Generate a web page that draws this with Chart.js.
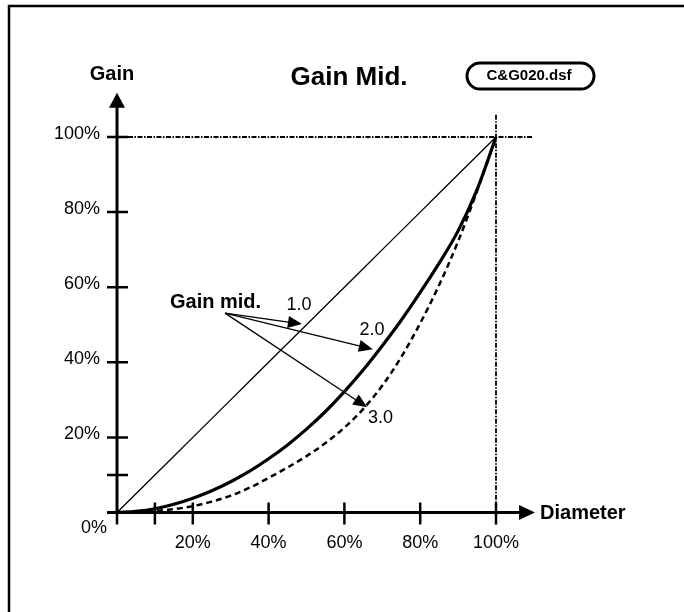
<!DOCTYPE html>
<html>
<head>
<meta charset="utf-8">
<script src="https://cdn.jsdelivr.net/npm/chart.js@4.4.1/dist/chart.umd.min.js"></script>
<style>
  html, body { margin: 0; padding: 0; background: #fff; }
  #wrap { width: 684px; height: 612px; position: relative; }
</style>
</head>
<body>
<div id="wrap"><canvas id="gainChart"></canvas></div>
<script>
// diameter (%) and gain (%) for the three "gain mid." settings
const diameter = [0, 5, 10, 15, 20, 25, 30, 35, 40, 45, 50, 55, 60, 65, 70, 75, 80, 85, 90, 95, 100];
const gainMid1 = [0, 5, 10, 15, 20, 25, 30, 35, 40, 45, 50, 55, 60, 65, 70, 75, 80, 85, 90, 95, 100];
const gainMid2 = [0, 0.3, 1, 2.2, 3.8, 5.8, 8.2, 11, 14.3, 18, 22.2, 26.9, 32.2, 38, 44.4, 51.2, 58.6, 66.4, 75, 86, 100];
const gainMid3 = [0, 0.1, 0.4, 0.9, 1.7, 2.9, 4.5, 6.6, 9.2, 12, 15, 18.5, 22.6, 27.6, 33.8, 41.4, 50.4, 60.6, 72.2, 85.6, 100];

// axis ticks
const xTickValues = [10, 20, 40, 60, 80, 100];
const xTickLabels = ['', '20%', '40%', '60%', '80%', '100%'];
const yTickValues = [10, 20, 40, 60, 80, 100];
const yTickLabels = ['', '20%', '40%', '60%', '80%', '100%'];

// annotation (data units)
const noteText = 'Gain mid.';
const notePos = { x: 26, y: 56 };
const noteOrigin = { x: 28.5, y: 53.1 };
const noteTargets = [{ x: 48.8, y: 50.2 }, { x: 67.5, y: 43.5 }, { x: 66, y: 28 }];
const curveNames = ['1.0', '2.0', '3.0'];
const curveNamePos = [{ x: 48, y: 55.3 }, { x: 67.3, y: 48.6 }, { x: 69.5, y: 25.2 }];

const FONT = '"Liberation Sans", Arial, Helvetica, sans-serif';

function toPoints(xs, ys) {
  return xs.map((x, i) => ({ x, y: ys[i] }));
}

function arrowHead(ctx, x0, y0, x1, y1, len, half) {
  const a = Math.atan2(y1 - y0, x1 - x0);
  ctx.beginPath();
  ctx.moveTo(x1, y1);
  ctx.lineTo(x1 - len * Math.cos(a) + half * Math.sin(a), y1 - len * Math.sin(a) - half * Math.cos(a));
  ctx.lineTo(x1 - len * Math.cos(a) - half * Math.sin(a), y1 - len * Math.sin(a) + half * Math.cos(a));
  ctx.closePath();
  ctx.fill();
}

function arrow(ctx, x0, y0, x1, y1, len, half, width) {
  const a = Math.atan2(y1 - y0, x1 - x0);
  ctx.lineWidth = width;
  ctx.beginPath();
  ctx.moveTo(x0, y0);
  ctx.lineTo(x1 - (len - 2) * Math.cos(a), y1 - (len - 2) * Math.sin(a));
  ctx.stroke();
  arrowHead(ctx, x0, y0, x1, y1, len, half);
}

// frame, reference lines, axes, labels
const decorPlugin = {
  id: 'decor',
  beforeDraw(chart) {
    const ctx = chart.ctx;
    ctx.save();
    ctx.fillStyle = '#fff';
    ctx.fillRect(0, 0, chart.width, chart.height);
    ctx.strokeStyle = '#000';
    ctx.lineWidth = 2.5;
    ctx.strokeRect(9, 6, 690, 620);
    ctx.restore();
  },
  beforeDatasetsDraw(chart) {
    const ctx = chart.ctx;
    const xs = chart.scales.x, ys = chart.scales.y;
    const x0 = xs.getPixelForValue(0), y0 = ys.getPixelForValue(0);
    const x100 = xs.getPixelForValue(100), y100 = ys.getPixelForValue(100);
    ctx.save();
    ctx.strokeStyle = '#000';
    ctx.fillStyle = '#000';

    // dash-dot lines at 100%
    ctx.lineWidth = 1.8;
    ctx.setLineDash([5, 1.5, 1.5, 1.5]);
    ctx.beginPath();
    ctx.moveTo(x0 + 11, y100);
    ctx.lineTo(xs.getPixelForValue(109.8), y100);
    ctx.moveTo(x100, ys.getPixelForValue(105.9));
    ctx.lineTo(x100, y0);
    ctx.stroke();
    ctx.setLineDash([]);

    // axes with arrows
    arrow(ctx, x0, y0 + 1, x0, ys.getPixelForValue(111.8), 15, 8, 3);
    arrow(ctx, x0 - 10, y0, xs.getPixelForValue(110.3), y0, 16, 7.5, 3);

    // tick marks crossing the axes
    ctx.lineWidth = 2.5;
    ctx.beginPath();
    yTickValues.forEach(v => {
      const y = ys.getPixelForValue(v);
      ctx.moveTo(x0 - 10, y);
      ctx.lineTo(x0 + 11, y);
    });
    xTickValues.forEach(v => {
      const x = xs.getPixelForValue(v);
      ctx.moveTo(x, y0 - 10);
      ctx.lineTo(x, y0 + 12);
    });
    ctx.moveTo(x0, y0);
    ctx.lineTo(x0, y0 + 12);
    ctx.stroke();

    // tick labels
    ctx.font = '18px ' + FONT;
    ctx.textBaseline = 'middle';
    ctx.textAlign = 'right';
    yTickValues.forEach((v, i) => {
      if (yTickLabels[i]) ctx.fillText(yTickLabels[i], x0 - 17, ys.getPixelForValue(v) - 3);
    });
    ctx.textAlign = 'center';
    xTickValues.forEach((v, i) => {
      if (xTickLabels[i]) ctx.fillText(xTickLabels[i], xs.getPixelForValue(v), y0 + 31);
    });
    ctx.fillText('0%', x0 - 23, y0 + 16);

    // axis titles and chart title
    ctx.font = 'bold 20px ' + FONT;
    ctx.fillText('Gain', x0 - 5, 74);
    ctx.textAlign = 'left';
    ctx.fillText('Diameter', xs.getPixelForValue(110.3) + 5, y0 + 1);
    ctx.textAlign = 'center';
    ctx.font = 'bold 26px ' + FONT;
    ctx.fillText('Gain Mid.', 349, 78);

    // file tag
    ctx.lineWidth = 3;
    ctx.beginPath();
    ctx.roundRect(467, 63, 127, 26, 13);
    ctx.stroke();
    ctx.font = 'bold 15px ' + FONT;
    ctx.fillText('C&G020.dsf', 529, 76);
    ctx.restore();
  },
  afterDatasetsDraw(chart) {
    const ctx = chart.ctx;
    const xs = chart.scales.x, ys = chart.scales.y;
    const px = p => ({ x: xs.getPixelForValue(p.x), y: ys.getPixelForValue(p.y) });
    ctx.save();
    ctx.strokeStyle = '#000';
    ctx.fillStyle = '#000';
    ctx.textBaseline = 'middle';
    ctx.textAlign = 'center';
    ctx.font = 'bold 20px ' + FONT;
    const np = px(notePos);
    ctx.fillText(noteText, np.x, np.y);
    const o = px(noteOrigin);
    noteTargets.forEach(t => {
      const p = px(t);
      arrow(ctx, o.x, o.y, p.x, p.y, 14, 6, 1.3);
    });
    ctx.font = '18px ' + FONT;
    curveNames.forEach((name, i) => {
      const p = px(curveNamePos[i]);
      ctx.fillText(name, p.x, p.y);
    });
    ctx.restore();
  }
};

const ctx = document.getElementById('gainChart').getContext('2d');
new Chart(ctx, {
  type: 'line',
  data: {
    datasets: [
      {
        label: '1.0',
        data: toPoints(diameter, gainMid1),
        borderColor: '#000',
        borderWidth: 1.3,
        pointRadius: 0,
        clip: false
      },
      {
        label: '2.0',
        data: toPoints(diameter, gainMid2),
        borderColor: '#000',
        borderWidth: 3.2,
        pointRadius: 0,
        cubicInterpolationMode: 'monotone',
        clip: false
      },
      {
        label: '3.0',
        data: toPoints(diameter, gainMid3),
        borderColor: '#000',
        borderWidth: 2.5,
        borderDash: [6, 4],
        pointRadius: 0,
        cubicInterpolationMode: 'monotone',
        clip: false
      }
    ]
  },
  options: {
    responsive: true,
    maintainAspectRatio: false,
    animation: false,
    layout: { padding: { left: 117, right: 188, top: 137, bottom: 99.5 } },
    scales: {
      x: { type: 'linear', min: 0, max: 100, display: false },
      y: { type: 'linear', min: 0, max: 100, display: false }
    },
    plugins: {
      legend: { display: false },
      tooltip: { enabled: false }
    }
  },
  plugins: [decorPlugin]
});
</script>
</body>
</html>
